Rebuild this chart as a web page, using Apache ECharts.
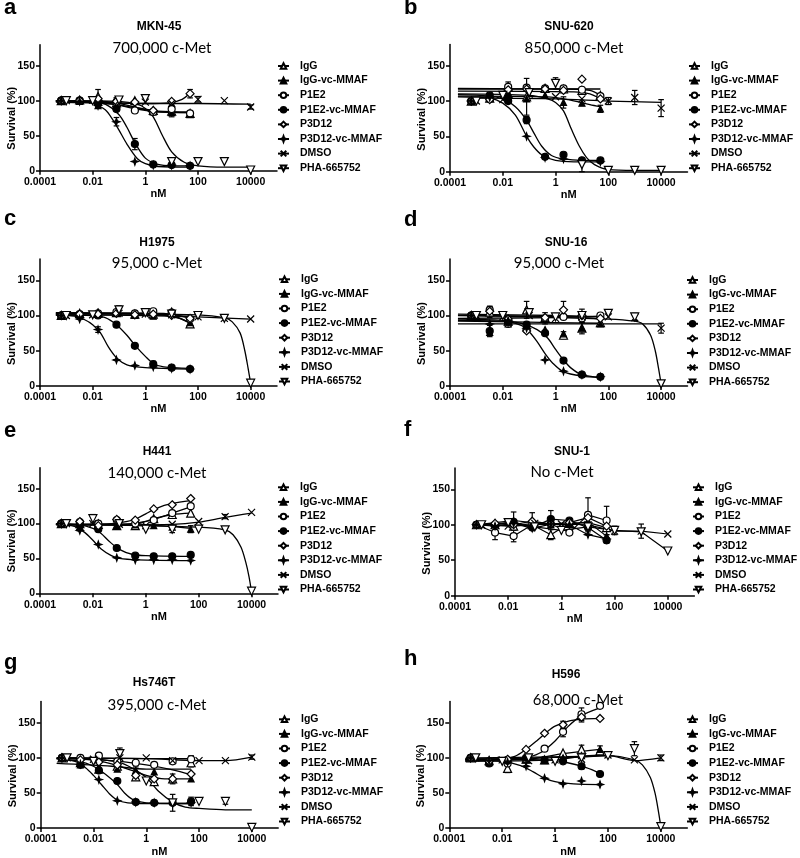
<!DOCTYPE html>
<html><head><meta charset="utf-8">
<script src="https://cdn.jsdelivr.net/npm/echarts@6/dist/echarts.min.js"></script>
<style>html,body{margin:0;padding:0;background:#fff}#c{width:800px;height:858px}</style>
</head><body><div id="c"></div>
<script>
// ---------- DATA ----------
const NAMES = ['IgG','IgG-vc-MMAF','P1E2','P1E2-vc-MMAF','P3D12','P3D12-vc-MMAF','DMSO','PHA-665752'];
const CONC_AB = [0.00064, 0.0032, 0.016, 0.08, 0.4, 2, 10, 50];      // antibody / ADC doses (nM)
const CONC_SM = [0.001, 0.01, 0.1, 1, 10, 100, 1000, 10000];          // DMSO / PHA-665752 doses (nM)
const X_TICKS = [0.0001, 0.01, 1, 100, 10000];
const X_TICK_LABELS = ['0.0001', '0.01', '1', '100', '10000'];
const Y_TICKS = [0, 50, 100, 150];
const LETTERS = ['a','b','c','d','e','f','g','h'];
const CELL_LINES = ['MKN-45','SNU-620','H1975','SNU-16','H441','SNU-1','Hs746T','H596'];
const CMET = ['700,000 c-Met','850,000 c-Met','95,000 c-Met','95,000 c-Met','140,000 c-Met','No c-Met','395,000 c-Met','68,000 c-Met'];

// survival (%) per series (rows in NAMES order)
const A_PTS = [
  [100,101,106,97,100,86,85,82],[100,99,93,93,90,84,83,80],[100,100,98,98,86,84,88,82],[100,100,96,88,38,9,8,7],
  [100,100,103,99,98,86,99,110],[100,99,93,70,13,8,8,7],[100,101,100,98,96,102,100,91],[100,100,101,103,13,13,13,1]];
const B_PTS = [
  [100,104,120,106,118,117,115,108],[100,105,112,103,108,98,97,89],[100,103,120,119,118,118,116,107],[100,108,100,73,21,24,16,16],
  [100,102,116,117,117,115,131,103],[100,105,105,50,20,18,15,14],[100,102,110,106,103,100,105,90],[100,108,112,125,10,2,2,2]];
const C_PTS = [
  [100,103,103,104,102,102,105,88],[100,101,105,104,100,99,103,90],[100,102,103,105,103,106,104,95],[100,101,100,87,57,31,26,24],
  [100,102,102,103,101,102,100,96],[100,95,80,37,29,27,25,24],[100,101,103,102,101,98,96,95],[100,101,108,104,102,100,96,4]];
const D_PTS = [
  [100,105,92,108,97,72,82,90],[100,76,88,85,80,74,82,88],[100,108,88,80,96,98,96,100],[100,78,90,87,75,36,16,13],
  [100,106,95,78,97,108,100,96],[100,88,93,82,37,21,16,13],[100,98,100,96,98,98,97,82],[100,100,104,98,100,103,98,3]];
const E_PTS = [
  [100,100,99,97,97,107,113,115],[100,96,101,96,98,97,95,92],[100,102,100,105,100,105,115,125],[100,98,92,65,54,53,53,55],
  [100,103,97,106,105,121,127,136],[100,90,70,51,48,48,48,47],[100,100,99,97,99,103,110,116],[100,107,100,92,92,92,91,3]];
const F_PTS = [
  [100,100,98,100,86,102,103,96],[100,103,106,103,100,101,104,84],[100,89,84,100,101,89,114,106],[100,100,104,96,108,106,96,78],
  [100,102,100,105,101,103,110,98],[100,98,102,95,101,100,86,80],[100,98,102,101,100,91,91,87],[100,103,97,92,97,92,90,63]];
const G_PTS = [
  [100,93,84,88,73,66,70,93],[100,90,87,84,82,80,73,70],[100,100,103,95,93,90,95,98],[100,90,82,67,37,36,36,38],
  [100,97,94,90,75,70,70,77],[100,91,69,39,37,36,35,36],[100,98,100,100,96,96,96,101],[100,95,106,67,36,38,38,1]];
const H_PTS = [
  [100,96,85,98,97,107,112,110],[100,93,97,97,96,100,103,112],[100,95,92,98,113,137,162,174],[100,92,96,100,97,95,88,77],
  [100,95,98,112,135,147,158,156],[100,96,94,88,71,63,67,62],[100,97,96,97,98,104,97,100],[100,95,100,95,100,103,113,2]];

// fitted curves: [nM, survival]
const A_FIT = [
  [[0.0004,99],[0.01,98],[0.1,94],[1,87],[3,84],[50,83]],
  [[0.0004,98],[0.05,95],[0.5,88],[3,84],[50,83]],
  [[0.0004,100],[0.05,98],[0.5,90],[3,85],[50,84]],
  [[0.0004,99],[0.01,98],[0.03,95],[0.1,80],[0.2,62],[0.4,40],[1,18],[3,9],[10,7],[50,7]],
  [[0.0004,100],[1,96],[8,97],[25,102],[50,111]],
  [[0.0004,100],[0.003,99],[0.01,96],[0.03,87],[0.06,72],[0.1,58],[0.2,38],[0.5,17],[1,10],[3,6],[50,5]],
  [[0.001,99],[1,96],[100,96],[10000,95]],
  [[0.001,100],[0.1,99],[0.5,95],[1,89],[2,77],[4.5,50],[10,27],[30,12],[100,7],[1000,5],[10000,5]]];
const B_FIT = [
  [[0.0002,117],[2,117],[20,115],[50,108]],
  [[0.0002,107],[0.5,106],[3,102],[20,95],[50,92]],
  [[0.0002,118],[10,117],[50,117]],
  [[0.0002,109],[0.003,107],[0.01,103],[0.03,92],[0.08,73],[0.15,55],[0.3,36],[0.7,23],[2,18],[10,16],[50,16]],
  [[0.0002,114],[5,113],[20,110],[50,103]],
  [[0.0002,106],[0.003,104],[0.01,97],[0.03,80],[0.08,50],[0.15,35],[0.3,24],[1,16],[5,14],[50,14]],
  [[0.001,104],[1,103],[100,100],[10000,98]],
  [[0.0002,110],[0.1,108],[0.5,103],[1,98],[2,86],[4,60],[8,36],[15,20],[30,10],[100,3],[1000,2],[10000,2]]];
const C_FIT = [
  [[0.0004,103],[1,103],[10,100],[50,89]],
  [[0.0004,103],[2,102],[20,96],[50,90]],
  [[0.0004,104],[5,103],[50,96]],
  [[0.0004,101],[0.01,100],[0.03,97],[0.08,87],[0.2,72],[0.4,58],[1,42],[2,32],[5,27],[50,25]],
  [[0.0004,101],[50,101]],
  [[0.0004,101],[0.002,99],[0.005,94],[0.01,87],[0.02,75],[0.04,55],[0.08,40],[0.2,30],[1,26],[50,24]],
  [[0.001,101],[1,100],[100,98],[10000,95]],
  [[0.001,103],[100,101],[1000,97],[2000,91],[4000,75],[6000,50],[8000,25],[10000,4]]];
const D_FIT = [
  [[0.0002,102],[1,100],[50,98]],
  [[0.0002,92],[1,90],[50,89]],
  [[0.0002,96],[1,97],[50,99]],
  [[0.0002,93],[0.01,92],[0.05,89],[0.2,80],[0.5,68],[1,52],[2,37],[4,25],[10,16],[50,12]],
  [[0.0002,100],[5,98],[50,95]],
  [[0.0002,95],[0.01,93],[0.05,86],[0.1,77],[0.2,63],[0.4,46],[0.8,32],[2,20],[10,14],[50,12]],
  [[0.0002,88],[100,88],[10000,88]],
  [[0.001,100],[100,95],[1000,92],[2000,88],[4000,72],[6000,50],[8000,25],[10000,3]]];
const E_FIT = [
  [[0.0004,98],[0.3,98],[2,107],[10,113],[50,115]],
  [[0.0004,99],[1,98],[50,93]],
  [[0.0004,99],[0.3,100],[1,103],[3,108],[10,115],[50,124]],
  [[0.0004,100],[0.003,98],[0.01,93],[0.02,86],[0.04,75],[0.1,63],[0.3,56],[1,54],[50,53]],
  [[0.0004,99],[0.05,100],[0.2,103],[0.5,108],[1,114],[2,120],[5,126],[10,129],[50,133]],
  [[0.0004,100],[0.002,96],[0.005,87],[0.01,76],[0.02,64],[0.05,54],[0.1,50],[0.5,48],[50,47]],
  [[0.001,98],[10,99],[100,102],[1000,109],[10000,115]],
  [[0.001,99],[100,95],[1000,91],[2000,84],[4000,66],[6000,45],[8000,24],[10000,2]]];
const F_FIT = [null,null,null,null,null,null,null,null];
const G_FIT = [
  [[0.0004,100],[0.01,97],[0.1,88],[1,75],[5,70],[50,70]],
  [[0.0004,92],[0.05,88],[1,84],[50,84]],
  [[0.0004,100],[1,99],[50,99]],
  [[0.0004,99],[0.003,95],[0.01,88],[0.03,76],[0.08,62],[0.15,50],[0.3,41],[1,36],[50,35]],
  [[0.0004,99],[0.05,96],[1,90],[10,83],[50,76]],
  [[0.0004,99],[0.002,95],[0.005,86],[0.01,75],[0.02,62],[0.04,49],[0.08,40],[0.2,36],[1,35],[50,35]],
  [[0.001,100],[1,99],[100,96],[1000,96],[10000,101]],
  [[0.001,100],[0.01,99],[0.1,93],[0.3,85],[1,72],[3,52],[10,37],[30,30],[100,28],[1000,26],[10000,26]]];
const H_FIT = [
  [[0.0004,97],[0.1,98],[2,106],[50,112]],
  [[0.0004,95],[1,97],[10,102],[50,104]],
  [[0.0004,97],[0.03,98],[0.1,101],[0.3,108],[1,124],[3,144],[10,160],[50,171]],
  [[0.0004,99],[0.5,97],[3,93],[15,86],[50,78]],
  [[0.0004,97],[0.01,98],[0.03,102],[0.08,112],[0.2,124],[0.5,137],[1,145],[3,152],[10,155],[50,156]],
  [[0.0004,97],[0.01,95],[0.05,89],[0.15,80],[0.4,71],[1,66],[5,63],[50,62]],
  [[0.001,98],[10,101],[100,103],[1000,96],[10000,100]],
  [[0.001,100],[10,102],[100,103],[1000,97],[2000,90],[4000,72],[6000,50],[8000,25],[10000,2]]];

// error bars: [series index, dose index, half-range]
const A_ERR = [[0,2,10],[0,3,7],[4,3,5],[3,4,8],[5,3,6],[0,6,8],[2,6,7],[4,7,6],[6,5,4],[6,7,3]];
const B_ERR = [[0,3,26],[0,2,7],[7,3,8],[7,4,10],[6,6,10],[6,7,12],[6,5,5],[1,5,8],[1,7,5],[3,3,5]];
const C_ERR = [[7,2,6],[5,2,4],[0,7,5],[3,5,4],[1,6,4]];
const D_ERR = [[0,3,12],[0,1,8],[3,1,8],[2,1,5],[4,5,12],[0,5,5],[7,6,5],[6,7,7],[1,6,8],[4,6,9],[2,4,8]];
const E_ERR = [[7,1,6],[7,4,5],[1,7,5],[2,5,3],[0,3,3],[6,6,3]];
const F_ERR = [[2,6,24],[2,7,20],[2,1,10],[2,2,8],[1,2,12],[3,4,12],[6,6,10],[0,4,7],[4,3,12],[5,7,6],[7,5,6]];
const G_ERR = [[7,2,8],[7,4,12],[0,7,6],[2,7,5],[4,6,7],[3,7,6],[7,6,4],[6,7,3],[1,4,5],[0,5,4]];
const H_ERR = [[2,6,9],[4,6,7],[2,5,7],[4,5,5],[7,6,10],[0,2,6],[0,6,6],[1,7,5],[3,6,4],[6,7,4]];

const PANEL_PTS = [A_PTS,B_PTS,C_PTS,D_PTS,E_PTS,F_PTS,G_PTS,H_PTS];
const PANEL_FIT = [A_FIT,B_FIT,C_FIT,D_FIT,E_FIT,F_FIT,G_FIT,H_FIT];
const PANEL_ERR = [A_ERR,B_ERR,C_ERR,D_ERR,E_ERR,F_ERR,G_ERR,H_ERR];

// ---------- LAYOUT / STYLE ----------
const GRIDS = [[40,44.7,237,126],[450,44.5,237.5,127.2],[40,259.1,237,126.9],[450,259.1,237.5,126.9],
               [40,467.8,238,125.5],[455,468,239.4,127.7],[40.7,701.6,237.5,126.7],[449.3,701.6,238,126.7]];
const LEGEND_POS = [[277,60],[688,60],[278,273.3],[686,274],[277,481.3],[692,481.3],[278,713.3],[686,713.3]];
const LETTER_POS = [[4,10],[404,10],[4,221],[404,222],[4,433],[404,432],[4,665],[404,661]];
const TITLE_POS = [[159,27],[569,27],[157,243],[566,243],[157,452],[572,452],[154,683],[566,675]];
const SUB_POS = [[162,48],[574,48],[157,263],[559,263],[157,473],[562,472],[157,705],[578,700]];
const CONNECTED = [false,false,false,false,false,true,false,false];

const FONT = '"Liberation Sans", Arial, sans-serif';
const BLACK = '#000';
const STAR = 'path://M5,0L6.3,3.7L10,5L6.3,6.3L5,10L3.7,6.3L0,5L3.7,3.7Z';
const CROSS = 'path://M0,0L10,10M10,0L0,10';
const SYM = [
  {symbol:'triangle', size:8, fill:'#fff'},
  {symbol:'triangle', size:6, fill:BLACK},
  {symbol:'circle', size:7, fill:'#fff'},
  {symbol:'circle', size:7, fill:BLACK},
  {symbol:'diamond', size:8, fill:'#fff'},
  {symbol:STAR, size:7, fill:BLACK},
  {symbol:CROSS, size:7, fill:'none'},
  {symbol:'triangle', size:8, fill:'#fff', rotate:180}];

function fmtX(v){
  const i = X_TICKS.findIndex(t => Math.abs(Math.log10(t) - Math.log10(v)) < 0.01);
  return i >= 0 ? X_TICK_LABELS[i] : '';
}

const grid = [], xAxis = [], yAxis = [], series = [], legend = [], graphic = [];
const axisLine = {show:true, onZero:false, lineStyle:{color:BLACK, width:1.5}};
const tickLabel = {color:BLACK, fontFamily:FONT, fontWeight:'bold', fontSize:10.5};

// legend representatives (empty data; carry line + symbol style for the legend icons)
for (let s = 0; s < 8; s++) {
  const sy = SYM[s];
  series.push({type:'line', name:NAMES[s], xAxisIndex:0, yAxisIndex:0, data:[],
    symbol:sy.symbol, symbolSize:sy.size, symbolRotate:sy.rotate || 0,
    itemStyle:{color:sy.fill, borderColor:BLACK, borderWidth:1.2},
    lineStyle:{color:BLACK, width:1.3}, animation:false, silent:true});
}

for (let p = 0; p < 8; p++) {
  const [l,t,w,h] = GRIDS[p];
  grid.push({left:l, top:t, width:w, height:h});
  xAxis.push({type:'log', logBase:10, min:0.0001, max:100000, gridIndex:p,
    name:'nM', nameLocation:'middle', nameGap:17,
    nameTextStyle:{color:BLACK, fontFamily:FONT, fontWeight:'bold', fontSize:11},
    axisLine, axisTick:{show:true, length:4, customValues:X_TICKS, lineStyle:{color:BLACK, width:1.5}},
    axisLabel:Object.assign({customValues:X_TICKS, formatter:fmtX, margin:6}, tickLabel),
    splitLine:{show:false}, minorTick:{show:false}});
  yAxis.push({type:'value', min:0, max:180, interval:50, gridIndex:p,
    axisLine, axisTick:{show:true, length:4, customValues:Y_TICKS, lineStyle:{color:BLACK, width:1.5}},
    axisLabel:Object.assign({customValues:Y_TICKS, margin:5}, tickLabel),
    splitLine:{show:false}});

  const pts = PANEL_PTS[p], fits = PANEL_FIT[p];
  for (let s = 0; s < 8; s++) {
    const conc = s < 6 ? CONC_AB : CONC_SM;
    const sy = SYM[s];
    series.push({type:'line', name:NAMES[s], xAxisIndex:p, yAxisIndex:p,
      data: conc.map((c,i) => [c, pts[s][i]]),
      symbol: sy.symbol, symbolSize: sy.size, symbolRotate: sy.rotate || 0, showAllSymbol:true,
      itemStyle:{color:sy.fill, borderColor:BLACK, borderWidth:1.2},
      lineStyle: CONNECTED[p] ? {color:BLACK, width:1.2} : {color:BLACK, width:0, opacity:0},
      emphasis:{disabled:true}, z:4, animation:false});
    if (fits[s]) {
      series.push({type:'line', name:NAMES[s] + ' fit', xAxisIndex:p, yAxisIndex:p,
        data: fits[s], symbol:'none', smooth:0.3,
        lineStyle:{color:BLACK, width:1.3}, emphasis:{disabled:true}, z:3, animation:false, silent:true});
    }
  }
  series.push({type:'custom', name:'err' + p, xAxisIndex:p, yAxisIndex:p, silent:true, z:3, animation:false,
    data: PANEL_ERR[p].map(([s,i,e]) => { const c = (s < 6 ? CONC_AB : CONC_SM)[i]; const v = pts[s][i]; return [c, v - e, v + e]; }),
    encode:{x:0, y:[1,2]},
    renderItem: (params, api) => {
      const x = api.value(0);
      const lo = api.coord([x, api.value(1)]), hi = api.coord([x, api.value(2)]);
      const cw = 2.8, st = {stroke:BLACK, lineWidth:1.2};
      return {type:'group', children:[
        {type:'line', shape:{x1:lo[0], y1:lo[1], x2:hi[0], y2:hi[1]}, style:st},
        {type:'line', shape:{x1:lo[0]-cw, y1:lo[1], x2:lo[0]+cw, y2:lo[1]}, style:st},
        {type:'line', shape:{x1:hi[0]-cw, y1:hi[1], x2:hi[0]+cw, y2:hi[1]}, style:st}]};
    }});

  legend.push({data:NAMES.slice(), orient:'vertical', left:LEGEND_POS[p][0], top:LEGEND_POS[p][1],
    itemWidth:11, itemHeight:7, itemGap:2.6, selectedMode:false, padding:0,
    textStyle:{color:BLACK, fontFamily:FONT, fontWeight:'bold', fontSize:10.5, lineHeight:12, padding:[0,0,0,6]}});

  graphic.push({type:'text', left:LETTER_POS[p][0], top:LETTER_POS[p][1] - 13,
    style:{text:LETTERS[p], fill:BLACK, font:'bold 22px ' + FONT}});
  graphic.push({type:'text', x:TITLE_POS[p][0], y:TITLE_POS[p][1],
    style:{text:CELL_LINES[p], fill:BLACK, font:'bold 12px ' + FONT, textAlign:'center', textVerticalAlign:'middle'}});
  graphic.push({type:'text', x:SUB_POS[p][0], y:SUB_POS[p][1],
    style:{text:CMET[p], fill:BLACK, font:'15px Lato, "Open Sans", sans-serif', textAlign:'center', textVerticalAlign:'middle'}});
  graphic.push({type:'text', x:l - 28, y:t + h - 52.5, rotation:Math.PI/2,
    style:{text:'Survival (%)', fill:BLACK, font:'bold 11px ' + FONT, textAlign:'center', textVerticalAlign:'middle'}});
}

const chart = echarts.init(document.getElementById('c'), null, {renderer:'canvas'});
chart.setOption({backgroundColor:'#fff', animation:false, grid, xAxis, yAxis, series, legend, graphic});
</script></body></html>
